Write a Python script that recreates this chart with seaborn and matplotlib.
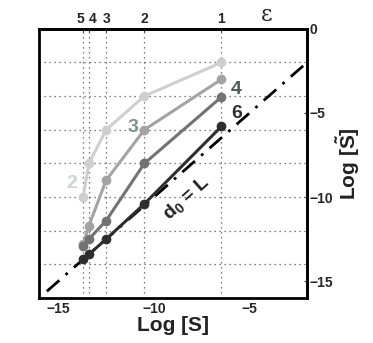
import seaborn as sns
import matplotlib.pyplot as plt
import matplotlib.transforms as mtransforms
import pandas as pd

# epsilon index and its position on the Log[S] axis
eps_labels = ['1', '2', '3', '4', '5']
log_s = [-6.47, -10.5, -12.5, -13.4, -13.7]

# Log[S~] for each curve
s2 = [-2.0, -4.0, -6.0, -8.0, -10.0]
s3 = [-3.0, -6.0, -9.0, -11.7, -12.8]
s4 = [-4.05, -8.0, -11.4, -12.5, -12.9]
s6 = [-5.8, -10.4, -12.5, -13.4, -13.7]

series = {'2': s2, '3': s3, '4': s4, '6': s6}
colors = {'2': '#cfcfcf', '3': '#a3a3a3', '4': '#727272', '6': '#2e2e2e'}
label_colors = {'2': '#c9d6d2', '3': '#7d9392', '4': '#4b5b5b', '6': '#2e2e2e'}

df = pd.concat([pd.DataFrame({'x': log_s, 'y': v, 'n': k}) for k, v in series.items()])

sns.set_style('white')
plt.rcParams['font.family'] = ['Liberation Sans', 'DejaVu Sans']
plt.rcParams['mathtext.fontset'] = 'custom'
plt.rcParams['mathtext.bf'] = 'Liberation Sans:bold'
plt.rcParams['mathtext.rm'] = 'Liberation Sans'

fig = plt.figure(figsize=(3.73, 3.43), dpi=100)
ax = fig.add_axes([0.105, 0.131, 0.718, 0.785])

ax.plot([-15.6, -2.2], [-15.6, -2.2], color='black', lw=2,
        linestyle=(0, (6, 3, 1, 3)), zorder=1)

sns.lineplot(data=df, x='x', y='y', hue='n', palette=colors, marker='o',
             markersize=7, markeredgewidth=0, lw=2.2, legend=False, ax=ax, zorder=3)

ax.set_xlim(-16, -2)
ax.set_ylim(-16, 0)

# dotted grid at every 2 on y and at the epsilon positions on x
ax.set_yticks(range(-14, 0, 2))
ax.set_yticklabels([])
ax.set_xticks([-15, -10, -5])
ax.set_xticklabels(['\u221215', '\u221210', '\u22125'], fontweight='bold', fontsize=10)
ax.set_xticks(log_s, minor=True)
ax.grid(False)
ax.grid(True, axis='y', which='major', linestyle=(0, (1, 3)), color='#555555', lw=0.9)
ax.grid(True, axis='x', which='minor', linestyle=(0, (1, 3)), color='#555555', lw=0.9)
ax.tick_params(axis='both', which='both', direction='in', length=2, width=1, pad=3)
ax.set_xlabel('Log [S]', fontweight='bold', fontsize=15, labelpad=0, color='#222222')
ax.set_ylabel('')

for sp in ax.spines.values():
    sp.set_linewidth(2)
    sp.set_color('black')

right = ax.secondary_yaxis('right')
right.set_yticks([0, -5, -10, -15])
right.set_yticklabels(['0', '\u22125', '\u221210', '\u221215'], fontweight='bold', fontsize=10)
right.tick_params(direction='in', length=2, pad=2)
right.set_ylabel(r'Log [$\mathbf{\tilde{S}}$]', fontweight='bold', fontsize=15, labelpad=1, color='#222222')
right.spines['right'].set_linewidth(2)

top = ax.secondary_xaxis('top')
top.set_xticks(log_s)
top.set_xticklabels([])
top.tick_params(direction='in', length=2)
top.spines['top'].set_linewidth(2)

# top epsilon labels, nudged apart where the ticks crowd together
nudge = [0, 0, 0, 0.2, -0.12]
trans = mtransforms.blended_transform_factory(ax.transData, ax.transAxes)
for xv, lab, dx in zip(log_s, eps_labels, nudge):
    ax.text(xv + dx, 1.012, lab, transform=trans, fontsize=10, fontweight='bold',
            ha='center', va='bottom')

fig.text(0.716, 0.955, '\u03b5', fontsize=16, family='DejaVu Serif', ha='center', va='center')

ax.text(-14.3, -9.2, '2', color=label_colors['2'], fontsize=14, fontweight='bold', ha='center', va='center')
ax.text(-11.1, -5.85, '3', color=label_colors['3'], fontsize=14, fontweight='bold', ha='center', va='center')
ax.text(-5.7, -3.6, '4', color=label_colors['4'], fontsize=14, fontweight='bold', ha='center', va='center')
ax.text(-5.7, -5.05, '6', color=label_colors['6'], fontsize=14, fontweight='bold', ha='center', va='center')
ax.text(-8.3, -10.1, r'd$_\mathbf{0}$ = L', fontsize=14, fontweight='bold', rotation=42,
        ha='center', va='center', color='#222222')

fig.savefig('out.png', dpi=100)
